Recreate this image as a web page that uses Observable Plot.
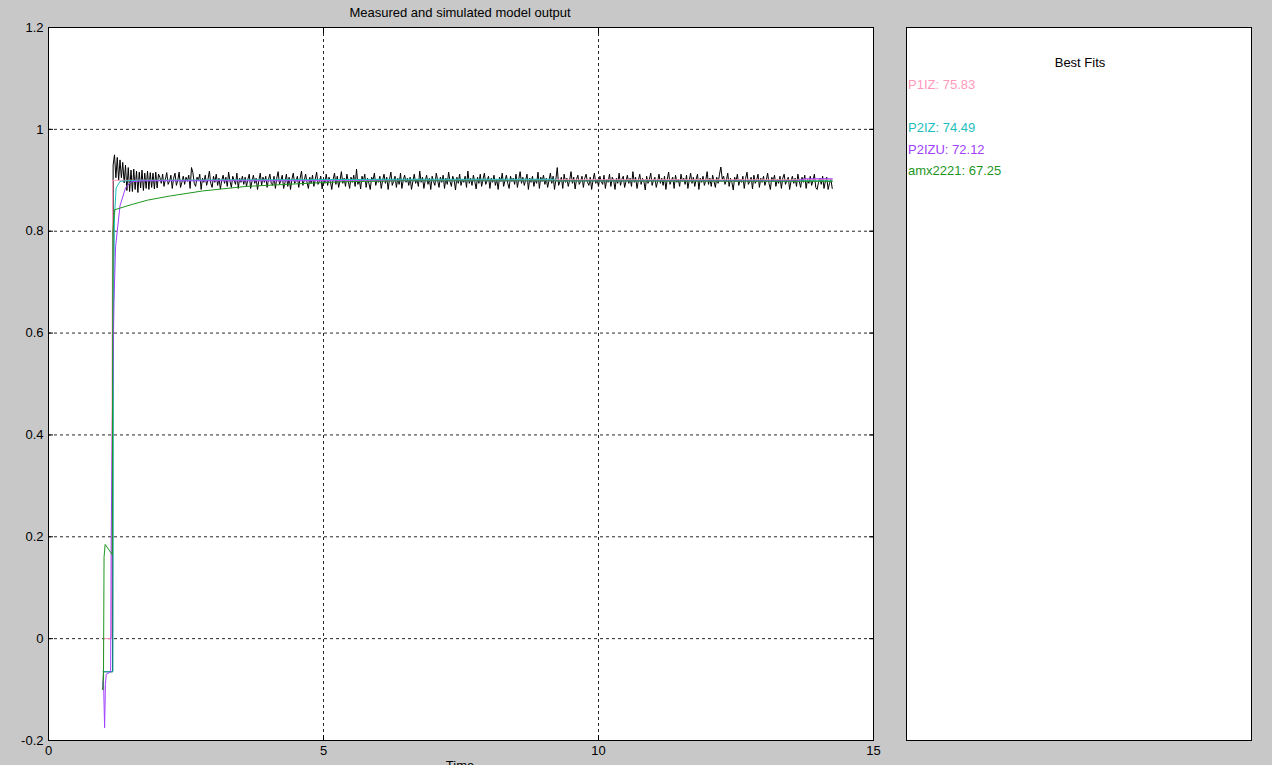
<!DOCTYPE html>
<html><head><meta charset="utf-8">
<script src="https://cdn.jsdelivr.net/npm/d3@7"></script>
<script src="https://cdn.jsdelivr.net/npm/@observablehq/plot@0.6"></script>
<style>
body{margin:0;background:#c8c8c8;overflow:hidden;font-family:"Liberation Sans",Arial,sans-serif;}
#wrap{position:relative;width:1272px;height:765px;overflow:hidden;}
#wrap svg{position:absolute;left:0;top:0;}
.t{position:absolute;font-size:13px;line-height:15px;white-space:nowrap;}
#legendBox{position:absolute;left:906px;top:27px;width:344px;height:712px;background:#fff;border:1px solid #000;}
</style></head><body><div id="wrap"></div>
<script>
const chartTitle = "Measured and simulated model output";
const xLabel = "Time";
const legendTitle = "Best Fits";
const modelNames = ["P1IZ", "P2IZ", "P2IZU", "amx2221"];
const modelFits = [75.83, 74.49, 72.12, 67.25];
const modelColors = ["#ff99bb", "#1dbdbd", "#a040ff", "#1e961e"];
const xTicks = [0, 5, 10, 15];
const yTicks = [-0.2, 0, 0.2, 0.4, 0.6, 0.8, 1, 1.2];

// measured output (black)
const measuredPreTime = [0.99, 1.0, 1.165];
const measuredPreValue = [-0.1, -0.065, -0.065];
const measuredStart = 1.175;
const measuredStep = 0.025;
const measuredValues = [
.93,.95,.905,.945,.9,.94,.905,.935,.895,.93,.88,.925,.878,.92,
.878,.922,.882,.918,.876,.916,.885,.92,.88,.914,.884,.918,.882,.915,.886,.914,.883,.916,.885,.912,
.906,.894,.912,.888,.902,.915,.892,.898,.91,.884,.904,.914,.89,.9,.916,.886,.896,.908,.892,.906,
.898,.91,.884,.925,.915,.894,.888,.906,.9,.912,.882,.904,.896,.91,.89,.902,.918,.894,.886,.908,
.896,.912,.89,.904,.883,.9,.91,.894,.906,.888,.916,.898,.886,.908,.9,.892,.914,.884,.904,.896,
.908,.892,.906,.888,.902,.912,.884,.898,.91,.894,.904,.882,.9,.914,.89,.906,.896,.908,.886,.902,
.912,.894,.89,.908,.884,.904,.917,.892,.9,.91,.884,.896,.912,.888,.906,.882,.902,.914,.894,.898,
.908,.886,.904,.918,.89,.9,.912,.896,.884,.906,.894,.91,.888,.902,.916,.892,.898,.908,.883,.904,
.894,.912,.89,.906,.898,.882,.902,.914,.892,.908,.886,.9,.917,.894,.904,.888,.912,.898,.884,.906,
.896,.91,.888,.922,.892,.902,.883,.908,.898,.912,.886,.904,.894,.882,.906,.9,.914,.89,.902,.896,
.908,.884,.9,.912,.894,.906,.882,.902,.916,.89,.898,.908,.886,.904,.892,.914,.884,.9,.91,.896,
.904,.89,.906,.882,.898,.912,.894,.902,.888,.918,.896,.906,.884,.9,.91,.892,.904,.882,.908,.898,
.89,.914,.9,.886,.906,.896,.91,.884,.904,.892,.916,.898,.888,.908,.9,.881,.906,.894,.912,.89,
.902,.896,.908,.886,.918,.894,.904,.89,.91,.898,.883,.906,.894,.912,.888,.902,.914,.892,.9,.908,
.884,.904,.896,.91,.89,.902,.882,.906,.898,.914,.888,.9,.91,.894,.884,.908,.898,.904,.892,.912,
.886,.902,.917,.894,.906,.89,.9,.912,.882,.904,.896,.908,.888,.902,.894,.916,.884,.906,.898,.91,
.892,.904,.886,.9,.914,.894,.908,.882,.902,.925,.89,.898,.906,.884,.912,.896,.904,.888,.9,.917,
.894,.906,.883,.902,.91,.892,.898,.908,.886,.904,.912,.896,.89,.906,.882,.9,.914,.894,.902,.888,
.908,.898,.892,.91,.884,.902,.896,.912,.888,.906,.9,.882,.904,.894,.914,.89,.902,.908,.886,.898,
.91,.894,.904,.888,.917,.896,.906,.884,.9,.912,.892,.904,.898,.881,.908,.894,.902,.914,.89,.9,
.906,.886,.898,.912,.894,.904,.89,.908,.882,.902,.916,.892,.9,.906,.884,.91,.896,.902,.888,.912,
.898,.904,.892,.91,.884,.9,.914,.894,.906,.888,.902,.912,.882,.904,.896,.908,.89,.9,.917,.892,
.904,.888,.91,.898,.886,.906,.894,.912,.926,.902,.908,.892,.9,.914,.888,.904,.896,.881,.906,.898,
.912,.89,.902,.896,.908,.884,.904,.916,.892,.898,.906,.883,.91,.894,.9,.912,.886,.904,.896,.908,
.89,.9,.914,.894,.882,.906,.898,.91,.888,.902,.894,.908,.884,.904,.912,.892,.9,.906,.882,.898,
.908,.894,.904,.888,.912,.898,.886,.906,.896,.91,.884,.902,.894,.908,.89,.9,.912,.886,.882,.896,
.904,.892,.908,.884,.898,.906,.882,.894,.902,.884
];

// simulated model outputs
const p1izTime  = [0.99, 1.0, 1.0, 1.145, 1.165, 1.2, 6.4, 9.2, 14.25];
const p1izValue = [-0.065, -0.065, 0, 0, 0.9, 0.9, 0.9, 0.901, 0.901];
const p2izTime  = [0.99, 1.17, 1.18, 1.2, 1.23, 1.3, 1.6, 6.4, 9.2, 9.25, 14.25];
const p2izValue = [-0.065, -0.065, 0.6, 0.83, 0.885, 0.898, 0.9, 0.902, 0.902, 0.899, 0.899];
const p2izuTime  = [0.99, 1.0, 1.02, 1.035, 1.05, 1.13, 1.14, 1.16, 1.19, 1.22, 1.25, 1.3, 1.4, 1.5, 1.7, 13.6, 13.75, 14.25];
const p2izuValue = [-0.09, -0.08, -0.175, -0.09, -0.07, -0.065, 0.2, 0.42, 0.66, 0.77, 0.8, 0.85, 0.885, 0.897, 0.899, 0.899, 0.903, 0.903];
const amxTime  = [0.99, 1.0, 1.01, 1.03, 1.16, 1.17, 1.2, 1.5, 1.8, 2.2, 2.8, 3.6, 4.7, 5.3, 6.5, 8, 14.25];
const amxValue = [-0.1, -0.065, 0.16, 0.185, 0.165, 0.8, 0.842, 0.852, 0.861, 0.869, 0.879, 0.888, 0.894, 0.897, 0.899, 0.899, 0.898];

// build tables
const measured = measuredPreTime.map((t, i) => ({t, v: measuredPreValue[i]}))
  .concat(measuredValues.map((v, i) => ({t: measuredStart + i * measuredStep, v})));
const zip = (ts, vs) => ts.map((t, i) => ({t, v: vs[i]}));
const models = [zip(p1izTime, p1izValue), zip(p2izTime, p2izValue), zip(p2izuTime, p2izuValue), zip(amxTime, amxValue)];

const dash = {stroke: "#000", strokeOpacity: 0.85, strokeDasharray: "3,3", strokeWidth: 1};

const plot = Plot.plot({
  width: 1272, height: 765,
  marginLeft: 48, marginRight: 399, marginTop: 27, marginBottom: 25,
  style: {background: "transparent", fontFamily: "'Liberation Sans', Arial, sans-serif", fontSize: "13px", color: "#000", overflow: "visible"},
  x: {domain: [0, 15]},
  y: {domain: [-0.2, 1.2]},
  marks: [
    Plot.frame({fill: "white", stroke: "none"}),
    Plot.ruleX(xTicks.slice(1, -1), dash),
    Plot.ruleY(yTicks.slice(1, -1), dash),
    Plot.line(measured, {x: "t", y: "v", stroke: "#000", strokeWidth: 1}),
    ...models.map((m, i) => Plot.line(m, {x: "t", y: "v", stroke: modelColors[i], strokeWidth: 1})),
    Plot.axisY(yTicks, {anchor: "left", tickSize: 0, tickPadding: 5, tickFormat: d => String(d), label: null}),
    Plot.axisY(yTicks, {anchor: "left", tickSize: 5, dx: 5, fill: "none", label: null}),
    Plot.axisY(yTicks, {anchor: "right", tickSize: 5, dx: -5, fill: "none", label: null}),
    Plot.axisX(xTicks, {anchor: "bottom", tickSize: 0, tickPadding: 5, tickFormat: d => String(d), label: null}),
    Plot.axisX(xTicks, {anchor: "bottom", tickSize: 5, dy: -5, fill: "none", label: null}),
    Plot.axisX(xTicks, {anchor: "top", tickSize: 5, dy: 5, fill: "none", label: null}),
    Plot.frame({stroke: "#000"})
  ]
});

const wrap = document.getElementById("wrap");
wrap.appendChild(plot);

function addText(text, left, top, color, center) {
  const d = document.createElement("div");
  d.className = "t";
  d.textContent = text;
  d.style.left = left + "px";
  d.style.top = top + "px";
  d.style.color = color;
  if (center) d.style.transform = "translateX(-50%)";
  wrap.appendChild(d);
  return d;
}
addText(chartTitle, 460, 5, "#000", true);
addText(xLabel, 460, 758, "#000", true);

const box = document.createElement("div");
box.id = "legendBox";
wrap.appendChild(box);
addText(legendTitle, 1080, 55, "#000", true);
const legendRows = [0, 2, 3, 4];
modelNames.forEach((name, i) => {
  addText(`${name}: ${modelFits[i].toFixed(2)}`, 908, 77 + legendRows[i] * 21.5, modelColors[i], false);
});
</script></body></html>
